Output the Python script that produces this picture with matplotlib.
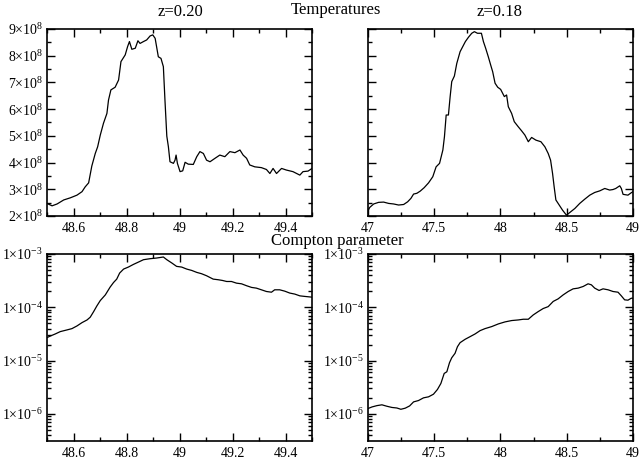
import math
import matplotlib
matplotlib.use("Agg")
import matplotlib.pyplot as plt
from matplotlib.ticker import MultipleLocator, FixedLocator, LogLocator, NullFormatter, FuncFormatter

plt.rcParams['font.family'] = 'Liberation Serif'
plt.rcParams['mathtext.fontset'] = 'custom'
plt.rcParams['mathtext.rm'] = 'Liberation Serif'
plt.rcParams['mathtext.it'] = 'Liberation Serif:italic'

# temperature, z=0.20 (units of 1e8 K)
x_t20 = [48.500, 48.519, 48.538, 48.563, 48.588, 48.613, 48.632, 48.644, 48.657, 48.669,
         48.682, 48.691, 48.701, 48.713, 48.726, 48.732, 48.741, 48.757, 48.770, 48.779,
         48.795, 48.804, 48.811, 48.820, 48.833, 48.843, 48.851, 48.864, 48.876, 48.889,
         48.899, 48.908, 48.920, 48.930, 48.939, 48.945, 48.952, 48.958, 48.964, 48.977,
         48.983, 48.987, 48.992, 49.002, 49.012, 49.021, 49.033, 49.052, 49.065, 49.077,
         49.090, 49.102, 49.115, 49.134, 49.152, 49.171, 49.190, 49.209, 49.228, 49.240,
         49.253, 49.265, 49.284, 49.309, 49.328, 49.341, 49.353, 49.366, 49.385, 49.403,
         49.428, 49.454, 49.466, 49.485, 49.500]
t_t20 = [2.47, 2.38, 2.45, 2.60, 2.68, 2.78, 2.91, 3.09, 3.24, 3.87,
         4.34, 4.59, 5.03, 5.47, 5.84, 6.34, 6.72, 6.82, 7.09, 7.78,
         8.03, 8.34, 8.53, 8.24, 8.28, 8.56, 8.46, 8.53, 8.59, 8.74,
         8.78, 8.65, 7.96, 7.90, 7.59, 6.34, 4.99, 4.59, 4.03, 3.97,
         4.09, 4.28, 3.97, 3.66, 3.69, 4.01, 3.94, 3.93, 4.22, 4.41,
         4.34, 4.09, 4.03, 4.16, 4.28, 4.22, 4.41, 4.37, 4.47, 4.28,
         4.16, 3.91, 3.84, 3.81, 3.74, 3.59, 3.78, 3.59, 3.78, 3.72,
         3.66, 3.53, 3.66, 3.68, 3.78]

# temperature, z=0.18
x_t18 = [47.000, 47.013, 47.043, 47.080, 47.118, 47.156, 47.193, 47.231, 47.269, 47.299,
         47.324, 47.344, 47.369, 47.394, 47.424, 47.457, 47.489, 47.514, 47.540, 47.565,
         47.577, 47.590, 47.607, 47.620, 47.632, 47.652, 47.670, 47.695, 47.715, 47.735,
         47.758, 47.783, 47.803, 47.826, 47.856, 47.871, 47.888, 47.908, 47.926, 47.941,
         47.959, 47.979, 48.001, 48.029, 48.046, 48.059, 48.084, 48.104, 48.134, 48.159,
         48.184, 48.210, 48.235, 48.267, 48.305, 48.335, 48.360, 48.378, 48.393, 48.405,
         48.418, 48.443, 48.468, 48.498, 48.528, 48.561, 48.598, 48.636, 48.674, 48.711,
         48.749, 48.787, 48.824, 48.849, 48.870, 48.900, 48.912, 48.925, 48.962, 48.987,
         49.000]
t_t18 = [2.20, 2.32, 2.45, 2.51, 2.52, 2.47, 2.45, 2.41, 2.43, 2.53,
         2.66, 2.82, 2.85, 2.93, 3.06, 3.24, 3.47, 3.84, 3.97, 4.47,
         4.97, 5.78, 5.78, 6.47, 7.03, 7.24, 7.71, 8.15, 8.34, 8.53,
         8.69, 8.84, 8.90, 8.84, 8.84, 8.53, 8.28, 7.96, 7.65, 7.40,
         6.97, 6.82, 6.74, 6.47, 6.53, 6.09, 5.84, 5.53, 5.34, 5.19,
         5.03, 4.78, 4.94, 4.84, 4.78, 4.59, 4.34, 4.09, 3.59, 3.09,
         2.60, 2.41, 2.22, 2.03, 2.15, 2.28, 2.47, 2.63, 2.78, 2.88,
         2.94, 3.03, 2.97, 2.99, 3.03, 3.13, 3.03, 2.81, 2.78, 2.87,
         2.91]

# Compton y, z=0.20
x_y20 = [48.500, 48.513, 48.531, 48.550, 48.575, 48.594, 48.613, 48.632, 48.651, 48.663,
         48.676, 48.688, 48.701, 48.720, 48.738, 48.751, 48.763, 48.774, 48.789, 48.807,
         48.826, 48.845, 48.864, 48.889, 48.914, 48.939, 48.952, 48.971, 48.989, 49.008,
         49.027, 49.046, 49.065, 49.083, 49.102, 49.127, 49.146, 49.162, 49.178, 49.196,
         49.215, 49.234, 49.253, 49.272, 49.290, 49.309, 49.328, 49.347, 49.359, 49.378,
         49.397, 49.416, 49.435, 49.454, 49.473, 49.500]
y_y20 = [2.70e-5, 2.90e-5, 3.16e-5, 3.50e-5, 3.76e-5, 3.98e-5, 4.47e-5, 5.16e-5, 5.79e-5, 6.52e-5,
         8.32e-5, 1.06e-4, 1.34e-4, 1.71e-4, 2.39e-4, 2.92e-4, 3.38e-4, 4.39e-4, 5.22e-4, 5.69e-4,
         6.38e-4, 7.06e-4, 7.82e-4, 8.17e-4, 8.41e-4, 8.79e-4, 7.82e-4, 6.78e-4, 5.86e-4, 5.69e-4,
         5.22e-4, 4.92e-4, 4.52e-4, 4.27e-4, 3.91e-4, 3.38e-4, 3.29e-4, 3.19e-4, 3.05e-4, 3.05e-4,
         2.84e-4, 2.76e-4, 2.54e-4, 2.36e-4, 2.29e-4, 2.13e-4, 1.98e-4, 1.92e-4, 2.13e-4, 2.13e-4,
         2.01e-4, 1.85e-4, 1.77e-4, 1.64e-4, 1.60e-4, 1.55e-4]

# Compton y, z=0.18
x_y18 = [47.000, 47.030, 47.068, 47.105, 47.143, 47.181, 47.218, 47.248, 47.281, 47.314,
         47.344, 47.381, 47.419, 47.457, 47.494, 47.524, 47.550, 47.575, 47.595, 47.615,
         47.632, 47.657, 47.675, 47.695, 47.733, 47.770, 47.808, 47.846, 47.883, 47.934,
         47.984, 48.034, 48.084, 48.134, 48.172, 48.210, 48.247, 48.285, 48.322, 48.360,
         48.398, 48.435, 48.473, 48.511, 48.548, 48.586, 48.624, 48.661, 48.686, 48.711,
         48.744, 48.774, 48.812, 48.849, 48.887, 48.912, 48.937, 48.962, 48.987, 49.000]
y_y18 = [1.26e-6, 1.35e-6, 1.43e-6, 1.48e-6, 1.39e-6, 1.32e-6, 1.29e-6, 1.22e-6, 1.28e-6, 1.41e-6,
         1.68e-6, 1.78e-6, 2.00e-6, 2.09e-6, 2.34e-6, 2.87e-6, 3.72e-6, 5.74e-6, 6.17e-6, 9.12e-6,
         1.13e-5, 1.37e-5, 1.82e-5, 2.17e-5, 2.51e-5, 2.81e-5, 3.16e-5, 3.65e-5, 3.98e-5, 4.35e-5,
         4.88e-5, 5.32e-5, 5.64e-5, 5.79e-5, 5.97e-5, 5.97e-5, 7.19e-5, 8.32e-5, 9.48e-5, 1.03e-4,
         1.29e-4, 1.44e-4, 1.71e-4, 1.98e-4, 2.22e-4, 2.29e-4, 2.46e-4, 2.76e-4, 2.64e-4, 2.29e-4,
         2.07e-4, 2.22e-4, 2.13e-4, 1.98e-4, 1.92e-4, 1.64e-4, 1.38e-4, 1.36e-4, 1.48e-4, 1.48e-4]

fig = plt.figure(figsize=(6.39, 4.61), dpi=100)
W, H = 0.4147, 0.4056
ax1 = fig.add_axes([0.0736, 0.5315, W, H])
ax2 = fig.add_axes([0.5759, 0.5315, W, H])
ax3 = fig.add_axes([0.0736, 0.0434, W, H])
ax4 = fig.add_axes([0.5759, 0.0434, W, H])


def style(ax):
    for s in ax.spines.values():
        s.set_linewidth(1.2)
    ax.tick_params(which='both', direction='in', top=True, right=True,
                   labelsize=10, width=1.0)
    ax.tick_params(axis='x', pad=4)
    ax.tick_params(axis='y', pad=3)
    ax.tick_params(which='major', length=6)
    ax.tick_params(which='minor', length=3)


def tfmt(v, pos):
    return r'$%d{\times}10^{8}$' % round(v / 1e8)


def yfmt(v, pos):
    return r'$1{\times}10^{%d}$' % round(math.log10(v))


def xfmt(v, pos):
    return ('%.1f' % v).rstrip('0').rstrip('.')


ax1.plot(x_t20, [v * 1e8 for v in t_t20], color='black', lw=0.9)
ax2.plot(x_t18, [v * 1e8 for v in t_t18], color='black', lw=0.9)
for ax in (ax1, ax2):
    ax.set_ylim(2e8, 9e8)
    ax.yaxis.set_major_locator(MultipleLocator(1e8))
    ax.yaxis.set_minor_locator(MultipleLocator(0.5e8))
    style(ax)
ax1.yaxis.set_major_formatter(FuncFormatter(tfmt))
ax2.set_yticklabels([])

ax3.semilogy(x_y20, y_y20, color='black', lw=0.9)
ax4.semilogy(x_y18, y_y18, color='black', lw=0.9)
for ax in (ax3, ax4):
    ax.set_ylim(3.1e-7, 1e-3)
    ax.yaxis.set_major_locator(LogLocator(base=10, numticks=10))
    ax.yaxis.set_minor_locator(LogLocator(base=10, subs=range(2, 10), numticks=10))
    ax.yaxis.set_minor_formatter(NullFormatter())
    ax.yaxis.set_major_formatter(FuncFormatter(yfmt))
    style(ax)

for ax in (ax1, ax3):
    ax.set_xlim(48.5, 49.5)
    ax.xaxis.set_major_locator(FixedLocator([48.6, 48.8, 49.0, 49.2, 49.4]))
    ax.xaxis.set_minor_locator(MultipleLocator(0.1))
    ax.xaxis.set_major_formatter(FuncFormatter(xfmt))
for ax in (ax2, ax4):
    ax.set_xlim(47, 49)
    ax.xaxis.set_major_locator(MultipleLocator(0.5))
    ax.xaxis.set_minor_locator(MultipleLocator(0.25))
    ax.xaxis.set_major_formatter(FuncFormatter(xfmt))

fig.text(180 / 639, 1 - 12 / 461, 'z=0.20', ha='center', va='center', fontsize=12)
fig.text(500 / 639, 1 - 12 / 461, 'z=0.18', ha='center', va='center', fontsize=12)
fig.text(336 / 639, 1 - 10 / 461, 'Temperatures', ha='center', va='center', fontsize=12)
fig.text(337 / 639, 1 - 241 / 461, 'Compton parameter', ha='center', va='center', fontsize=12)

fig.savefig('out.png', dpi=100)
